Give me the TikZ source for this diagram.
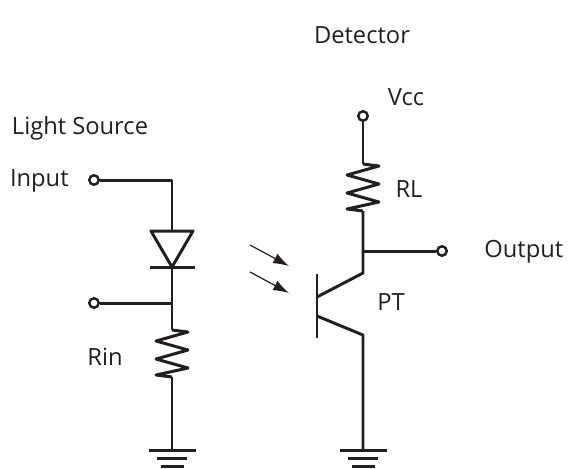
\documentclass[tikz,border=0pt]{standalone}
\usepackage{fontspec}
\setmainfont{Open Sans}
\usetikzlibrary{arrows.meta}
\definecolor{ink}{HTML}{231F20}
\tikzset{
	wire/.style={line width=1.7pt, color=ink},
	ray/.style={line width=0.7pt, color=ink, -{Latex[length=9pt, width=6pt]}},
	term/.style={circle, draw=ink, line width=1.4pt, fill=white, inner sep=0pt, minimum size=5.4pt},
	lbl/.style={text=ink, font=\fontsize{13.5}{16}\selectfont, inner sep=0pt},
	pics/resistor/.style={code={
		\draw[wire] (0,0) -- (16,2) -- (-16,11) -- (16,20) -- (-16,29) -- (16,38) -- (-16,45) -- (0,47);
	}},
	pics/ground/.style={code={
		\draw[wire] (-23.5,0) -- (23.5,0) (-15,8) -- (15,8) (-11.5,16) -- (11.5,16);
	}}
}

\begin{document}
\begin{tikzpicture}[x=0.02cm, y=-0.02cm, line join=round]
			%%%%% START %%%%%
			\useasboundingbox (0,0) rectangle (568,468);
			
			% labels
			\node[lbl] (detector) at (362,35) {Detector};
			\node[lbl] (vcclbl) at (406,97) {Vcc};
			\node[lbl] (rllbl) at (409,189) {RL};
			\node[lbl, anchor=west] (outlbl) at (484,252) {Output};
			\node[lbl] (ptlbl) at (391,302) {PT};
			\node[lbl] (srclbl) at (80,128) {Light Source};
			\node[lbl, anchor=east] (inlbl) at (69,181) {Input};
			\node[lbl] (rinlbl) at (105,357) {Rin};
			
			% terminals
			\node[term] (vcc) at (363,116) {};
			\node[term] (out) at (442,251) {};
			\node[term] (in) at (94,180) {};
			\node[term] (mid) at (94,303) {};
			
			% detector side
			\coordinate (rltop) at (363,164);
			\coordinate (rlbot) at (363,211);
			\coordinate (outj) at (363,251);
			\coordinate (col) at (363,273);
			\coordinate (emi) at (363,335);
			\coordinate (gndr) at (363,450);
			\coordinate (bc) at (317,297);
			\coordinate (be) at (317,316);
			\coordinate (bartop) at (317,274);
			\coordinate (barbot) at (317,338);
			
			\draw[wire] (vcc) -- (rltop);
			\pic at (rltop) {resistor};
			\draw[wire] (rlbot) -- (col) -- (bc);
			\draw[wire] (outj) -- (out);
			\draw[wire] (bartop) -- (barbot);
			\draw[wire] (be) -- (emi) -- (gndr);
			\pic at (gndr) {ground};
			
			% light source side
			\coordinate (inc) at (172,180);
			\coordinate (dtop) at (172,231);
			\coordinate (dbar) at (172,267);
			\coordinate (midj) at (172,303);
			\coordinate (rintop) at (172,330);
			\coordinate (rinbot) at (172,377);
			\coordinate (gndl) at (172,450);
			
			\draw[wire] (in) -- (inc) -- (dtop);
			\draw[wire] (151,231) -- (193,231) -- (dbar) -- cycle;
			\draw[wire] (150,267) -- (195,267);
			\draw[wire] (dbar) -- (rintop);
			\draw[wire] (mid) -- (midj);
			\pic at (rintop) {resistor};
			\draw[wire] (rinbot) -- (gndl);
			\pic at (gndl) {ground};
			
			% light
			\draw[ray] (250,245) -- (289,266);
			\draw[ray] (250,272) -- (289,293);
			
			%%%%% END %%%%%
\end{tikzpicture}
\end{document}
